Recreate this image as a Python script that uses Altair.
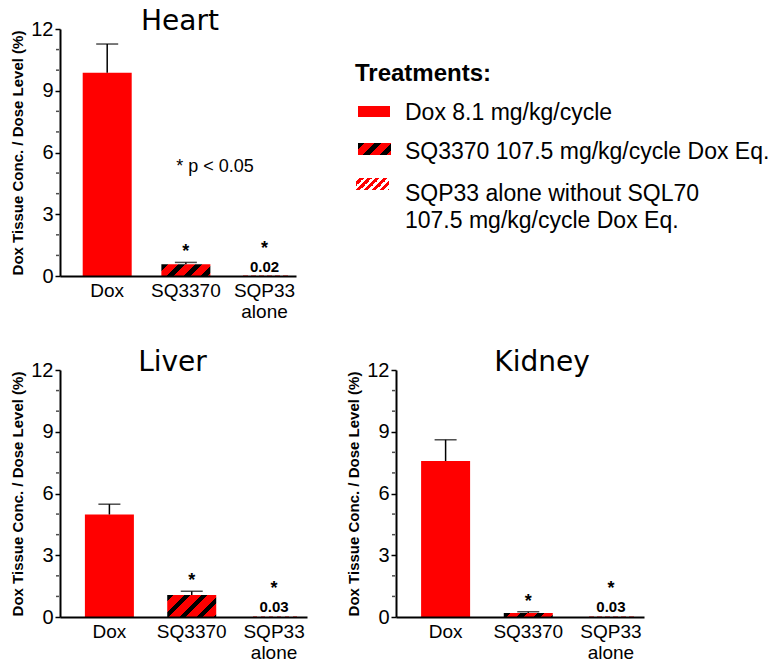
import altair as alt
import pandas as pd

# ---------------- data ----------------
treatments = ["Dox", "SQ3370", "SQP33 alone"]
heart_mean = [9.87, 0.57, 0.02]
heart_err = [1.40, 0.09, 0.0]
liver_mean = [4.98, 1.07, 0.03]
liver_err = [0.50, 0.18, 0.0]
kidney_mean = [7.58, 0.20, 0.03]
kidney_err = [1.03, 0.05, 0.0]
value_labels = {"Heart": "0.02", "Liver": "0.03", "Kidney": "0.03"}
significant = ["SQ3370", "SQP33 alone"]

major_ticks = [0, 3, 6, 9, 12]
minor_ticks = [1, 2, 4, 5, 7, 8, 10, 11]

legend_title = "Treatments:"
legend_labels = [
    "Dox 8.1 mg/kg/cycle",
    "SQ3370 107.5 mg/kg/cycle Dox Eq.",
    "SQP33 alone without SQL70\n107.5 mg/kg/cycle Dox Eq.",
]
pvalue_note = "* p < 0.05"
y_title = "Dox Tissue Conc. / Dose Level (%)"

# ---------------- style ----------------
RED = "#ff0000"
BLACK = "#000000"
FONT = "Liberation Sans"
TITLE_FONT = "DejaVu Sans"
BAR_W = 49
YMAX = 12


def stripes(W, H, period, frac, bg, fg):
    """Linear gradient emulating '/' diagonal hatching on a W x H box."""
    total = W + H
    k = total / (W * W + H * H)
    stops = [{"offset": 0, "color": bg}]
    i = 0
    while True:
        s = i * period / total
        e = (i * period + frac * period) / total
        if s >= 1:
            break
        e = min(e, 1)
        stops += [{"offset": s, "color": bg}, {"offset": s, "color": fg},
                  {"offset": e, "color": fg}, {"offset": e, "color": bg}]
        i += 1
    stops.append({"offset": 1, "color": bg})
    return {"gradient": "linear", "x1": 0, "y1": 0, "x2": k * W, "y2": k * H,
            "stops": stops}


def panel(organ, means, errs, width, height, title_dx, extra=None):
    df = pd.DataFrame({
        "treatment": treatments,
        "mean": means,
        "err": errs,
    })
    df["upper"] = df["mean"] + df["err"]
    df["vlabel"] = ["", "", value_labels[organ]]

    x = alt.X("treatment:N", sort=treatments,
              scale=alt.Scale(domain=treatments, paddingInner=0.4,
                              paddingOuter=0.2, align=0.75),
              axis=alt.Axis(labelAngle=0, ticks=False, domainWidth=2,
                            domainColor=BLACK, labelColor=BLACK,
                            labelFont=FONT, labelFontSize=19, labelPadding=5,
                            labelExpr="split(datum.label, ' ')",
                            labelLineHeight=21, title=None, zindex=1))
    yscale = alt.Scale(domain=[0, YMAX], nice=False)
    y = alt.Y("mean:Q", scale=yscale,
              axis=alt.Axis(values=major_ticks, labelOverlap=False,
                            tickSize=5, tickWidth=1.5, tickColor=BLACK,
                            domainWidth=2, domainColor=BLACK,
                            labelFont=FONT, labelFontSize=20, labelColor=BLACK,
                            labelPadding=2, grid=False,
                            title=y_title, titleFont=FONT, titleFontSize=15,
                            titleFontWeight="bold", titleColor=BLACK,
                            titlePadding=5, zindex=1))

    base = alt.Chart(df)
    h_sq = means[1] / YMAX * height
    h_sqp = max(means[2] / YMAX * height, 1)

    dox = base.transform_filter(alt.datum.treatment == "Dox").mark_bar(
        size=BAR_W, fill=RED).encode(x=x, y=y)
    sq = base.transform_filter(alt.datum.treatment == "SQ3370").mark_bar(
        size=BAR_W, fill=stripes(BAR_W, h_sq, 17, 0.38, RED, BLACK)).encode(x=x, y=y)
    sqp = base.transform_filter(alt.datum.treatment == "SQP33 alone").mark_bar(
        size=BAR_W, fill=stripes(BAR_W, h_sqp, 8, 0.4, RED, "#ffffff")).encode(x=x, y=y)

    eb = base.transform_filter(alt.datum.err > 0)
    rule = eb.mark_rule(color=BLACK, strokeWidth=1.5).encode(
        x=x, y=alt.Y("mean:Q", scale=yscale), y2="upper:Q")
    cap = eb.mark_tick(color=BLACK, thickness=1.5, size=22, orient="horizontal").encode(
        x=x, y=alt.Y("upper:Q", scale=yscale))

    star_sq = base.transform_filter(alt.datum.treatment == "SQ3370").mark_text(
        text="*", font=FONT, fontSize=18, fontWeight="bold", dy=-10,
        baseline="middle", color=BLACK).encode(x=x, y=alt.Y("upper:Q", scale=yscale))
    star_sqp = base.transform_filter(alt.datum.treatment == "SQP33 alone").mark_text(
        text="*", font=FONT, fontSize=18, fontWeight="bold", dy=-27,
        baseline="middle", color=BLACK).encode(x=x, y=alt.Y("mean:Q", scale=yscale))
    vlab = base.transform_filter(alt.datum.treatment == "SQP33 alone").mark_text(
        font=FONT, fontSize=15, fontWeight="bold", dy=-9,
        baseline="middle", color=BLACK).encode(
        x=x, y=alt.Y("mean:Q", scale=yscale), text="vlabel:N")

    minor = alt.Chart(pd.DataFrame({"t": minor_ticks})).mark_tick(
        orient="horizontal", size=3, thickness=1.5, color=BLACK).encode(
        x=alt.value(-2.5), y=alt.Y("t:Q", scale=yscale))

    layers = [dox, sq, sqp, rule, cap, star_sq, star_sqp, vlab, minor]
    if extra:
        layers += extra(yscale)
    return alt.layer(*layers).properties(
        width=width, height=height,
        title=alt.TitleParams(text=organ, font=TITLE_FONT, fontSize=28,
                              fontWeight="normal", color=BLACK, frame="group",
                              anchor="middle", dx=title_dx, offset=-17))


def heart_extras(yscale):
    one = pd.DataFrame({"v": [0]})
    note = alt.Chart(pd.DataFrame({"t": [pvalue_note], "yv": [5.3]})).mark_text(
        font=FONT, fontSize=18, color=BLACK, baseline="middle", align="center"
    ).encode(x=alt.value(155), y=alt.Y("yv:Q", scale=yscale), text="t:N")

    lt = alt.Chart(pd.DataFrame({"t": [legend_title]})).mark_text(
        font=FONT, fontSize=24, fontWeight="bold", color=BLACK,
        align="left", baseline="alphabetic").encode(
        x=alt.value(295), y=alt.value(52), text="t:N")

    sw_fills = [RED,
                stripes(33, 12, 17, 0.38, RED, BLACK),
                stripes(33, 12, 8, 0.4, RED, "#ffffff")]
    sw_x = [(298, 330), (298, 331), (296, 329)]
    sw_y = [(77, 88), (114, 126), (149, 161)]
    tx_y = [91, 130, 172]
    out = [note, lt]
    for i in range(3):
        out.append(alt.Chart(one).mark_rect(fill=sw_fills[i]).encode(
            x=alt.value(sw_x[i][0]), x2=alt.value(sw_x[i][1]),
            y=alt.value(sw_y[i][0]), y2=alt.value(sw_y[i][1])))
        out.append(alt.Chart(pd.DataFrame({"t": [legend_labels[i]]})).mark_text(
            font=FONT, fontSize=23, color=BLACK, align="left",
            baseline="alphabetic", lineBreak="\n", lineHeight=27).encode(
            x=alt.value(345), y=alt.value(tx_y[i]), text="t:N"))
    return out


heart = panel("Heart", heart_mean, heart_err, 236, 247, 2, heart_extras)
liver = panel("Liver", liver_mean, liver_err, 247, 247, -11)
kidney = panel("Kidney", kidney_mean, kidney_err, 248, 247, 22)

chart = alt.vconcat(
    heart,
    alt.hconcat(liver, kidney, spacing=39),
    spacing=28,
).properties(
    padding={"left": 2, "top": 0, "right": 0, "bottom": 0}
).configure_view(stroke=None).configure_concat(spacing=20)

chart.save("out.html", embed_options={"renderer": "svg", "actions": False})
